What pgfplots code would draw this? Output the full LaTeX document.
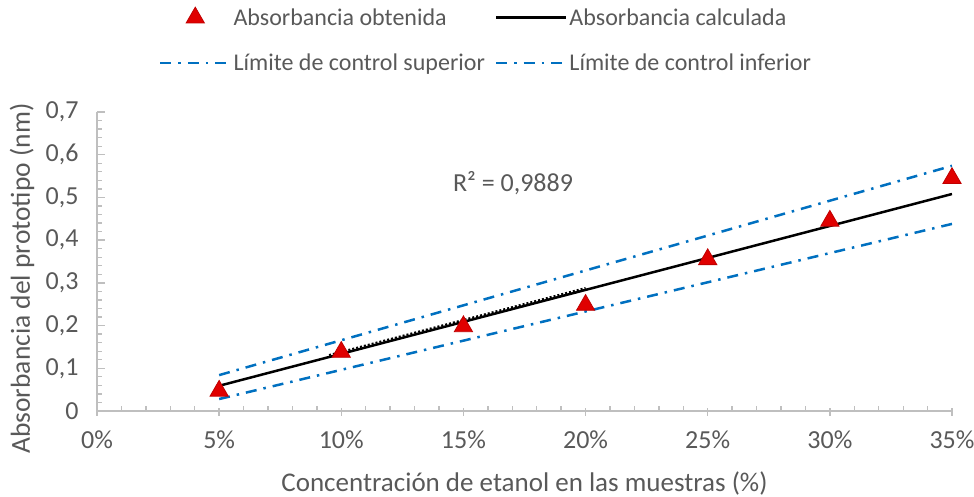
\documentclass[border=0pt]{standalone}
\usepackage{fontspec}
\setmainfont{Carlito}
\usepackage{pgfplots}
\pgfplotsset{compat=1.18}
\definecolor{txt}{HTML}{595959}
\definecolor{axgray}{HTML}{BFBFBF}
\definecolor{limblue}{HTML}{0070C0}
\definecolor{mred}{HTML}{E00000}
\definecolor{mredd}{HTML}{C00000}
\begin{document}
\begin{tikzpicture}
\begin{axis}[
  name=ax,
  scale only axis,
  width=855pt, height=299pt,
  xmin=0, xmax=35, ymin=0, ymax=0.7,
  axis lines*=left,
  axis line style={axgray, line width=1.5pt, -},
  xtick={0,5,...,35},
  ytick={0,0.1,...,0.7},
  minor x tick num=4,
  minor y tick num=4,
  tick align=inside,
  major tick length=8pt,
  minor tick length=5pt,
  tick style={axgray, line width=1.3pt},
  major x tick style={yshift=-5pt},
  xticklabel={\pgfmathprintnumber{\tick}\%},
  /pgf/number format/assume math mode=true,
  y tick label style={/pgf/number format/fixed, /pgf/number format/precision=1, /pgf/number format/use comma, xshift=-15pt},
  ticklabel style={font=\fontsize{26}{30}\selectfont, text=txt},
  x tick label style={yshift=-16pt},
  xlabel={Concentración de etanol en las muestras (\%)},
  ylabel={Absorbancia del prototipo (nm)},
  every axis x label/.style={at={(axis description cs:0.5,0)}, anchor=center, yshift=-72pt, font=\fontsize{27}{31}\selectfont, text=txt},
  every axis y label/.style={at={([xshift=-75pt, yshift=-17pt]axis description cs:0,0.5)}, anchor=center, rotate=90, font=\fontsize{27.5}{31}\selectfont, text=txt},
  legend columns=2,
  legend cell align=left,
  legend style={draw=none, fill=none, at={(0.455,1.12)}, anchor=south,
    font=\fontsize{24}{28}\selectfont, text=txt,
    /tikz/every even column/.append style={column sep=8pt},
    row sep=23pt},
  legend image code/.code={\path[draw=none, fill=none] (0pt,-1pt) rectangle (70pt,1pt);\draw[mark repeat=2,mark phase=2,#1] plot coordinates {(0pt,0pt) (35pt,0pt) (70pt,0pt)};},
]
% dotted trend segment
\addplot[forget plot, black, line width=2pt, dotted] coordinates {(9.5,0.131) (20,0.288)};
\addplot[only marks, mark=triangle*, mark size=10.5pt, mark options={fill=mred, draw=mredd, line width=0.8pt}]
  coordinates {(5,0.047) (10,0.138) (15,0.198) (20,0.248) (25,0.355) (30,0.445) (35,0.545)};
\addlegendentry{Absorbancia obtenida}
\addplot[black, line width=2.5pt, no marks] coordinates {(5,0.059) (35,0.508)};
\addlegendentry{Absorbancia calculada}
\addplot[limblue, line width=2.5pt, no marks, dash pattern=on 11pt off 7pt on 2.5pt off 7pt] coordinates {(5,0.084) (35,0.574)};
\addlegendentry{Límite de control superior}
\addplot[limblue, line width=2.5pt, no marks, dash pattern=on 11pt off 7pt on 2.5pt off 7pt] coordinates {(5,0.028) (35,0.438)};
\addlegendentry{Límite de control inferior}
\node[text=txt, font=\fontsize{26}{30}\selectfont] at (axis cs:17.03,0.534) {R² = 0,9889};
\end{axis}
\pgfresetboundingbox
\path (ax.south west) ++(-97pt,-86pt) rectangle ([shift={(22pt,112pt)}]ax.north east);
\end{tikzpicture}
\end{document}
